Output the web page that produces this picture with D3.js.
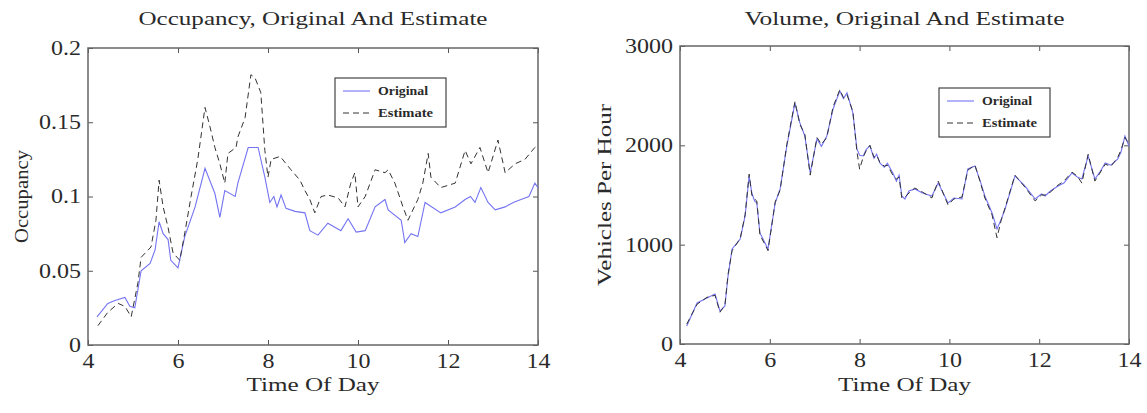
<!DOCTYPE html>
<html>
<head>
<meta charset="utf-8">
<script src="https://cdn.jsdelivr.net/npm/d3@7"></script>
<style>
body { margin: 0; background: #fff; }
text { font-family: "Liberation Serif", "Times New Roman", serif; fill: #2a2a2a; }
</style>
</head>
<body>
<script>
// occupancy (time of day in hours)
var occOrigT = [4.2, 4.44, 4.6, 4.82, 4.93, 5.04, 5.18, 5.38, 5.49, 5.58, 5.67, 5.78, 5.84, 6.0, 6.15, 6.38, 6.6, 6.82, 6.93, 7.04, 7.27,
  7.33, 7.56, 7.78, 7.93, 8.04, 8.13, 8.2, 8.29, 8.4, 8.6, 8.82, 8.93, 9.11, 9.33, 9.62, 9.78, 9.96, 10.16, 10.38, 10.6,
  10.67, 10.96, 11.04, 11.18, 11.33, 11.49, 11.84, 12.16, 12.38, 12.5, 12.6, 12.73, 12.89, 13.05, 13.27, 13.45, 13.62, 13.8, 13.93, 14.0];
var occOrigV = [0.019, 0.028, 0.030, 0.032, 0.026, 0.025, 0.050, 0.055, 0.064, 0.083, 0.075, 0.071, 0.057, 0.052, 0.073, 0.093, 0.119, 0.102, 0.086, 0.104, 0.100,
  0.109, 0.133, 0.133, 0.113, 0.096, 0.100, 0.093, 0.101, 0.092, 0.090, 0.089, 0.077, 0.074, 0.082, 0.077, 0.085, 0.076, 0.077, 0.093, 0.098,
  0.091, 0.084, 0.069, 0.075, 0.073, 0.096, 0.089, 0.093, 0.098, 0.100, 0.096, 0.106, 0.096, 0.091, 0.093, 0.096, 0.098, 0.100, 0.109, 0.106];
var occEstT = [4.22, 4.44, 4.67, 4.82, 4.96, 5.11, 5.18, 5.4, 5.51, 5.58, 5.67, 5.78, 5.89, 6.04, 6.16, 6.29, 6.44, 6.6, 6.71, 6.82, 6.93, 7.04, 7.11, 7.29,
  7.33, 7.49, 7.62, 7.71, 7.84, 7.93, 8.0, 8.07, 8.27, 8.51, 8.71, 8.82, 8.93, 9.04, 9.18, 9.33, 9.56, 9.71, 9.84, 9.93, 10.0, 10.16, 10.38, 10.6,
  10.67, 10.82, 11.0, 11.11, 11.33, 11.44, 11.56, 11.62, 11.84, 12.16, 12.38, 12.51, 12.71, 12.89, 13.11, 13.27, 13.49, 13.71, 13.93, 14.0];
var occEstV = [0.013, 0.022, 0.028, 0.026, 0.019, 0.042, 0.059, 0.066, 0.084, 0.111, 0.093, 0.079, 0.062, 0.057, 0.077, 0.100, 0.125, 0.160, 0.147, 0.133, 0.122, 0.109, 0.129, 0.133,
  0.140, 0.153, 0.182, 0.180, 0.170, 0.131, 0.113, 0.125, 0.127, 0.118, 0.111, 0.104, 0.098, 0.089, 0.100, 0.101, 0.099, 0.093, 0.109, 0.116, 0.093, 0.100, 0.118, 0.116,
  0.118, 0.109, 0.093, 0.084, 0.098, 0.109, 0.129, 0.113, 0.106, 0.109, 0.131, 0.122, 0.133, 0.116, 0.138, 0.116, 0.122, 0.125, 0.133, 0.135];

// volume
var volT = [4.15, 4.38, 4.6, 4.78, 4.89, 5.0, 5.07, 5.16, 5.34, 5.45, 5.54, 5.6, 5.66, 5.71, 5.78, 5.96, 6.12, 6.23, 6.38, 6.56, 6.67, 6.78, 6.9,
  7.05, 7.15, 7.27, 7.41, 7.56, 7.64, 7.72, 7.85, 7.94, 8.0, 8.08, 8.15, 8.23, 8.32, 8.38, 8.45, 8.55, 8.62, 8.74, 8.82, 8.88, 8.94,
  9.01, 9.1, 9.23, 9.4, 9.61, 9.75, 9.97, 10.1, 10.28, 10.41, 10.57, 10.68, 10.79, 10.95, 11.06, 11.15, 11.24, 11.46, 11.68, 11.91,
  12.05, 12.13, 12.25, 12.42, 12.55, 12.73, 12.85, 12.95, 13.09, 13.24, 13.35, 13.47, 13.6, 13.75, 13.82, 13.91, 14.0];
var volOrig = [181, 413, 463, 503, 332, 383, 684, 957, 1057, 1289, 1692, 1520, 1440, 1420, 1118, 957, 1420, 1561, 1994, 2427, 2226, 2094, 1722,
  2064, 1990, 2094, 2366, 2548, 2470, 2528, 2326, 1964, 1900, 1893, 1960, 1994, 1870, 1910, 1823, 1780, 1820, 1722, 1640, 1700, 1490,
  1460, 1540, 1561, 1520, 1490, 1621, 1420, 1470, 1460, 1762, 1792, 1650, 1490, 1319, 1158, 1250, 1359, 1692, 1591, 1460,
  1510, 1490, 1540, 1591, 1620, 1722, 1680, 1661, 1893, 1661, 1730, 1823, 1800, 1863, 1930, 2094, 1994];
var volEst = [200, 400, 470, 490, 320, 390, 700, 940, 1060, 1300, 1710, 1500, 1460, 1440, 1100, 940, 1430, 1550, 2010, 2440, 2210, 2110, 1700,
  2080, 2010, 2080, 2390, 2560, 2480, 2510, 2340, 1940, 1760, 1880, 1950, 2000, 1880, 1900, 1830, 1790, 1800, 1700, 1660, 1680, 1470,
  1480, 1520, 1570, 1530, 1470, 1640, 1400, 1460, 1480, 1750, 1800, 1640, 1470, 1300, 1070, 1240, 1370, 1700, 1580, 1440,
  1500, 1500, 1530, 1600, 1640, 1730, 1690, 1620, 1910, 1640, 1720, 1810, 1790, 1880, 1950, 2080, 2010];

var xTicks = [4, 6, 8, 10, 12, 14];
var occTicks = [0, 0.05, 0.1, 0.15, 0.2];
var volTicks = [0, 1000, 2000, 3000];

var W = 1147, H = 413;
var svg = d3.select("body").append("svg").attr("width", W).attr("height", H);

// stretch text wider like the original (scanned figure is wide)
function stretch(sel, k) {
  sel.each(function() {
    var l = this.getComputedTextLength();
    d3.select(this).attr("textLength", l * k).attr("lengthAdjust", "spacingAndGlyphs");
  });
}

function panel(opt) {
  var x = d3.scaleLinear().domain([4, 14]).range([opt.left, opt.right]);
  var y = d3.scaleLinear().domain(opt.ydom).range([opt.bottom, opt.top]);
  var g = svg.append("g");

  var bottom = g.append("g").attr("transform", "translate(0," + opt.bottom + ")")
    .call(d3.axisBottom(x).tickValues(xTicks).tickSizeInner(-5).tickSizeOuter(0).tickPadding(9).tickFormat(String));
  var left = g.append("g").attr("transform", "translate(" + opt.left + ",0)")
    .call(d3.axisLeft(y).tickValues(opt.yticks).tickSizeInner(-5).tickSizeOuter(0).tickPadding(7).tickFormat(String));
  var top = g.append("g").attr("transform", "translate(0," + opt.top + ")")
    .call(d3.axisTop(x).tickValues(xTicks).tickSizeInner(-5).tickSizeOuter(0).tickFormat(""));
  var right = g.append("g").attr("transform", "translate(" + opt.right + ",0)")
    .call(d3.axisRight(y).tickValues(opt.yticks).tickSizeInner(-5).tickSizeOuter(0).tickFormat(""));
  [bottom, left, top, right].forEach(function(a) {
    a.select(".domain").remove();
    a.selectAll("line").attr("stroke", "#555");
    a.selectAll("text").style("font-family", "Liberation Serif").style("font-size", "20px").attr("fill", "#2a2a2a");
  });
  stretch(bottom.selectAll("text"), 1.2);
  stretch(left.selectAll("text"), 1.2);

  g.append("rect").attr("x", opt.left).attr("y", opt.top)
    .attr("width", opt.right - opt.left).attr("height", opt.bottom - opt.top)
    .attr("fill", "none").attr("stroke", "#666").attr("stroke-width", 1.5);

  var line = function(t) {
    return d3.line().x(function(d, i) { return x(t[i]); }).y(function(d) { return y(d); });
  };
  g.append("path").datum(opt.origV).attr("d", line(opt.origT))
    .attr("fill", "none").attr("stroke", "#7474f2").attr("stroke-width", 1.1);
  g.append("path").datum(opt.estV).attr("d", line(opt.estT))
    .attr("fill", "none").attr("stroke", "#333").attr("stroke-width", 1).attr("stroke-dasharray", "6,4");

  var cx = (opt.left + opt.right) / 2;
  g.append("text").attr("x", cx).attr("y", 25).attr("text-anchor", "middle")
    .style("font-size", "18px").attr("textLength", opt.titleW).attr("lengthAdjust", "spacingAndGlyphs")
    .text(opt.title);
  g.append("text").attr("x", cx).attr("y", 391).attr("text-anchor", "middle")
    .style("font-size", "19px").attr("textLength", 133).attr("lengthAdjust", "spacingAndGlyphs")
    .text("Time Of Day");
  g.append("text").attr("transform", "translate(" + opt.ylabX + "," + ((opt.top + opt.bottom) / 2) + ") rotate(-90)")
    .attr("text-anchor", "middle").style("font-size", "19px")
    .attr("textLength", opt.ylabW).attr("lengthAdjust", "spacingAndGlyphs")
    .text(opt.ylab);

  // legend
  var lg = g.append("g").attr("transform", "translate(" + opt.legX + "," + opt.legY + ")");
  lg.append("rect").attr("width", 111).attr("height", 49).attr("fill", "#fff").attr("stroke", "#444").attr("stroke-width", 1.2);
  lg.append("line").attr("x1", 8).attr("x2", 35).attr("y1", 13).attr("y2", 13).attr("stroke", "#7474f2").attr("stroke-width", 1.1);
  lg.append("line").attr("x1", 8).attr("x2", 35).attr("y1", 35).attr("y2", 35).attr("stroke", "#333").attr("stroke-dasharray", "6,4");
  lg.append("text").attr("x", 43).attr("y", 17).style("font-size", "12px").style("font-weight", "bold")
    .attr("textLength", 50).attr("lengthAdjust", "spacingAndGlyphs").text("Original");
  lg.append("text").attr("x", 43).attr("y", 39).style("font-size", "12px").style("font-weight", "bold")
    .attr("textLength", 55).attr("lengthAdjust", "spacingAndGlyphs").text("Estimate");
}

panel({left: 88, right: 538, top: 48, bottom: 345, ydom: [0, 0.2], yticks: occTicks,
  origT: occOrigT, origV: occOrigV, estT: occEstT, estV: occEstV,
  title: "Occupancy, Original And Estimate", titleW: 349, ylab: "Occupancy", ylabW: 93, ylabX: 28,
  legX: 335, legY: 78});
panel({left: 680, right: 1129, top: 46, bottom: 344, ydom: [0, 3000], yticks: volTicks,
  origT: volT, origV: volOrig, estT: volT, estV: volEst,
  title: "Volume, Original And Estimate", titleW: 320, ylab: "Vehicles Per Hour", ylabW: 182, ylabX: 611,
  legX: 939, legY: 88});
</script>
</body>
</html>
